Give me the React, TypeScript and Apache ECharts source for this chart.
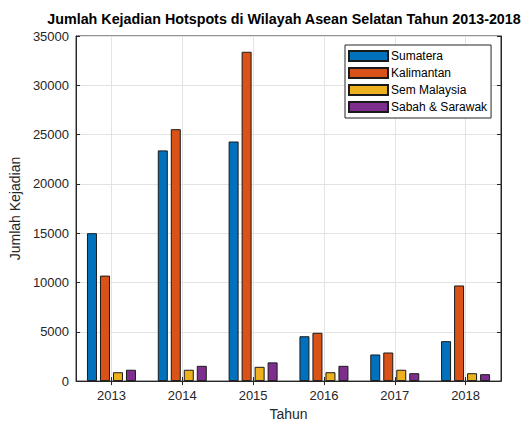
import React, { useEffect, useRef } from "react";
import * as echarts from "echarts";

const years = ["2013", "2014", "2015", "2016", "2017", "2018"];
const sumatera = [15000, 23400, 24300, 4550, 2700, 4050];
const kalimantan = [10700, 25550, 33400, 4900, 2900, 9700];
const semMalaysia = [900, 1150, 1450, 900, 1150, 800];
const sabahSarawak = [1150, 1550, 1900, 1550, 800, 700];
const seriesNames = ["Sumatera", "Kalimantan", "Sem Malaysia", "Sabah & Sarawak"];
const colors = ["#0072BD", "#D95319", "#EDB120", "#7E2F8E"];
// helper category axis for grid lines at category centres (13 half-steps)
const halfSteps = Array.from({ length: 13 }, (_, i) => String(i));

export default function App() {
  const ref = useRef<HTMLDivElement>(null);
  useEffect(() => {
    if (!ref.current) return;
    const chart = echarts.init(ref.current, null, { renderer: "svg" });
    const font = "'Liberation Sans', Arial, sans-serif";
    const values = [sumatera, kalimantan, semMalaysia, sabahSarawak];
    chart.setOption({
      animation: false,
      backgroundColor: "#ffffff",
      textStyle: { fontFamily: font },
      title: {
        text: "Jumlah Kejadian Hotspots di Wilayah Asean Selatan Tahun 2013-2018",
        left: 284,
        textAlign: "center",
        top: 10,
        padding: 0,
        textStyle: { fontSize: 14.3, fontWeight: "bold", color: "#000", fontFamily: font, lineHeight: 17 },
      },
      legend: {
        orient: "vertical",
        left: 345,
        top: 45,
        icon: "rect",
        itemWidth: 39,
        itemHeight: 10,
        itemGap: 3,
        padding: [4, 4, 4, 3],
        backgroundColor: "#fff",
        borderColor: "#262626",
        borderWidth: 1,
        borderRadius: 0,
        textStyle: { fontSize: 12, color: "#000", fontFamily: font, padding: [0, 0, 0, -2], lineHeight: 14 },
        data: seriesNames,
      },
      grid: {
        left: 73,
        right: 28,
        top: 36,
        bottom: 40,
        show: true,
        borderColor: "#262626",
        borderWidth: 1,
      },
      xAxis: [
        {
          type: "category",
          data: years,
          name: "Tahun",
          nameLocation: "middle",
          nameGap: 25,
          nameTextStyle: { fontSize: 14, color: "#262626" },
          axisLine: { show: true, lineStyle: { color: "#262626" } },
          axisTick: { show: true, inside: true, alignWithLabel: true, length: 4, lineStyle: { color: "#262626" } },
          axisLabel: { fontSize: 13, color: "#262626", margin: 8 },
          splitLine: { show: false },
        },
        {
          type: "category",
          data: halfSteps,
          boundaryGap: false,
          position: "top",
          axisLine: { show: false },
          axisLabel: { show: false },
          axisTick: {
            show: true,
            inside: true,
            length: 4,
            interval: (i: number) => i % 2 === 1,
            lineStyle: { color: "#262626" },
          },
          splitLine: {
            show: true,
            interval: (i: number) => i % 2 === 1,
            lineStyle: { color: "#e3e3e3", width: 1 },
          },
        },
      ],
      yAxis: [
        {
          type: "value",
          min: 0,
          max: 35000,
          interval: 5000,
          name: "Jumlah Kejadian",
          nameLocation: "middle",
          nameGap: 49,
          nameRotate: 90,
          nameTextStyle: { fontSize: 14, color: "#262626" },
          axisLine: { show: true, lineStyle: { color: "#262626" } },
          axisTick: { show: true, inside: true, length: 4, lineStyle: { color: "#262626" } },
          axisLabel: { fontSize: 13, color: "#262626", margin: 7, lineHeight: 13, formatter: (v: number) => String(v) },
          splitLine: { show: true, lineStyle: { color: "#e3e3e3", width: 1 } },
        },
        {
          type: "value",
          min: 0,
          max: 35000,
          interval: 5000,
          position: "right",
          axisLine: { show: true, lineStyle: { color: "#262626" } },
          axisTick: { show: true, inside: true, length: 4, lineStyle: { color: "#262626" } },
          axisLabel: { show: false },
          splitLine: { show: false },
        },
      ],
      series: seriesNames.map((name, i) => ({
        name,
        type: "bar",
        xAxisIndex: 0,
        yAxisIndex: 0,
        data: values[i],
        barWidth: 10,
        barGap: "30%",
        z: 3,
        itemStyle: { color: colors[i], borderColor: "#1a1a1a", borderWidth: 1 },
      })),
    });
    return () => chart.dispose();
  }, []);
  return <div ref={ref} style={{ width: 529, height: 426, position: "absolute", left: 0, top: 0 }} />;
}
